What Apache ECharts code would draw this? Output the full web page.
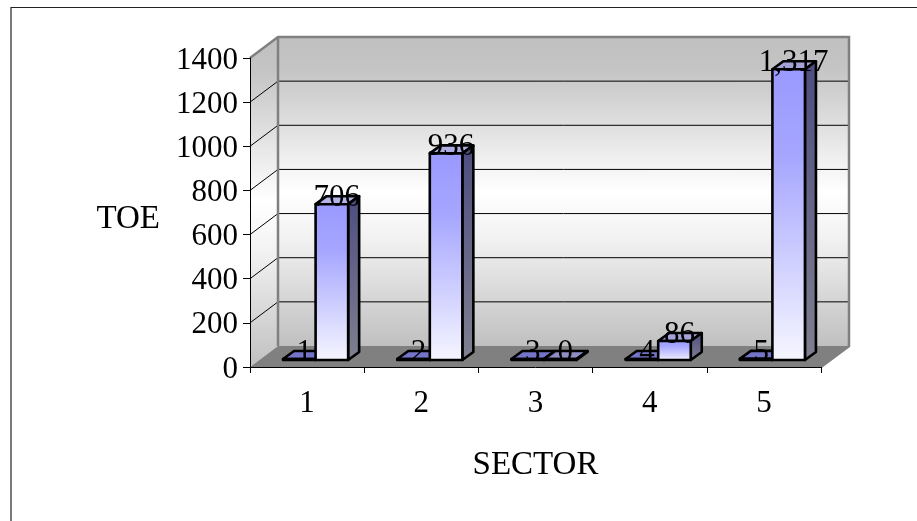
<!DOCTYPE html>
<html><head><meta charset="utf-8">
<style>html,body{margin:0;padding:0;background:#fff}#c{width:917px;height:521px}</style>
<script src="https://cdn.jsdelivr.net/npm/echarts@6/dist/echarts.min.js"></script>
</head><body><div id="c"></div>
<script>
const categories = ['1','2','3','4','5'];
const sectorValues = [1,2,3,4,5];
const toeValues = [706,936,0,86,1317];
const toeLabels = ['706','936','0','86','1,317'];
const yTicks = [0,200,400,600,800,1000,1200,1400];
const FONT = '"Liberation Serif", serif';

const DX = 28, DY = 21;      // wall depth
const BDX = 11, BDY = 8;     // bar depth
const SX = 8.5, SY = 7;      // bar set-back

const wallGrad = {type:'linear',x:0,y:0,x2:0,y2:1,colorStops:[
  {offset:0,color:'#c0c0c0'},{offset:0.1,color:'#c4c4c4'},{offset:0.5,color:'#ffffff'},{offset:0.65,color:'#f2f2f2'},{offset:1,color:'#c0c0c0'}]};
const frontGrad = {type:'linear',x:0,y:0,x2:0,y2:1,colorStops:[
  {offset:0,color:'#9999ff'},{offset:0.3,color:'#a6a6ff'},{offset:1,color:'#f6f6ff'}]};
const sideGrad = {type:'linear',x:0,y:0,x2:0,y2:1,colorStops:[
  {offset:0,color:'#4d4d80'},{offset:1,color:'#808090'}]};

function renderWalls(params, api){
  const c = params.coordSys;
  const L=c.x, R=c.x+c.width, T=c.y, B=c.y+c.height;
  const kids = [];
  kids.push({type:'polygon',shape:{points:[[L+DX,T-DY],[R+DX,T-DY],[R+DX,B-DY],[L+DX,B-DY]]},style:{fill:wallGrad}});
  kids.push({type:'polygon',shape:{points:[[L,T],[L+DX,T-DY],[L+DX,B-DY],[L,B]]},style:{fill:wallGrad}});
  kids.push({type:'polygon',shape:{points:[[L,B],[R,B],[R+DX,B-DY],[L+DX,B-DY]]},style:{fill:'#808080'}});
  yTicks.forEach(v=>{
    if(v===0||v===1400) return;
    const y = api.coord([0,v])[1];
    kids.push({type:'polyline',shape:{points:[[L,y],[L+DX,y-DY],[R+DX,y-DY]]},style:{fill:'none',stroke:'#000',lineWidth:1}});
  });
  kids.push({type:'polyline',shape:{points:[[L,T],[L+DX,T-DY],[R+DX,T-DY],[R+DX,B-DY],[R,B]]},style:{fill:'none',stroke:'#808080',lineWidth:2.5}});
  kids.push({type:'line',shape:{x1:L+DX,y1:T-DY,x2:L+DX,y2:B-DY},style:{stroke:'#808080',lineWidth:2.5}});
  return {type:'group',children:kids};
}

function makeBars(sign, labels){
  return function(params, api){
    const cat = api.value(0), val = api.value(1);
    const band = api.size([1,0])[0];
    const w = band*0.285;
    const p = api.coord([cat,val]), b = api.coord([cat,0]);
    const x0 = p[0]+SX + (sign<0 ? -w : 0), x1 = x0+w;
    const yb = b[1]-SY, yt = Math.min(p[1]-SY, yb-1);
    const st = {stroke:'#000',lineWidth:2.6,lineJoin:'round'};
    const topFill = sign<0 ? '#7474c8' : 'rgba(150,150,225,0.7)';
    return {type:'group',children:[
      {type:'polygon',shape:{points:[[x0,yt],[x1,yt],[x1+BDX,yt-BDY],[x0+BDX,yt-BDY]]},style:Object.assign({fill:topFill},st)},
      {type:'polygon',shape:{points:[[x1,yt],[x1+BDX,yt-BDY],[x1+BDX,yb-BDY],[x1,yb]]},style:Object.assign({fill:sideGrad},st)},
      {type:'polygon',shape:{points:[[x0,yt],[x1,yt],[x1,yb],[x0,yb]]},style:Object.assign({fill:frontGrad},st)},
      {type:'text',z2:50,style:{text:labels[params.dataIndex],x:(x0+x1)/2+5,y:yt+9,textAlign:'center',textVerticalAlign:'bottom',fill:'#000',font:'31px '+FONT}}
    ]};
  };
}

const chart = echarts.init(document.getElementById('c'),null,{renderer:'canvas'});
chart.setOption({
  animation:false,
  backgroundColor:'#fff',
  graphic:[{type:'polyline',silent:true,shape:{points:[[11,521],[11,7.5],[917,7.5]]},style:{fill:'none',stroke:'#222',lineWidth:1.2}}],
  grid:{left:250,top:58,width:571,height:309},
  xAxis:{type:'category',data:categories,z:3,name:'SECTOR',nameLocation:'middle',nameGap:82,
    nameTextStyle:{fontFamily:'Liberation Serif',fontSize:33,color:'#000'},
    axisLine:{show:true,lineStyle:{color:'#000',width:1}},
    axisTick:{show:true,alignWithLabel:false,length:6,lineStyle:{color:'#000'}},
    axisLabel:{fontFamily:'Liberation Serif',fontSize:31,color:'#000',margin:21}},
  yAxis:{type:'value',min:0,max:1400,interval:200,z:3,name:'TOE',nameLocation:'middle',nameGap:90,nameRotate:0,
    nameTextStyle:{fontFamily:'Liberation Serif',fontSize:33,color:'#000',verticalAlign:'top',padding:[-10,0,0,0]},
    axisLine:{show:true,lineStyle:{color:'#000',width:1}},
    axisTick:{show:true,length:7,lineStyle:{color:'#000'}},
    axisLabel:{fontFamily:'Liberation Serif',fontSize:31,color:'#000',margin:12,verticalAlign:'top',padding:[-13,0,0,0],formatter:v=>String(v)},
    splitLine:{show:false}},
  series:[
    {type:'custom',z:1,clip:false,silent:true,coordinateSystem:'cartesian2d',data:[[0,0]],renderItem:renderWalls},
    {type:'custom',z:4,clip:false,silent:true,coordinateSystem:'cartesian2d',encode:{x:0,y:1},
     data:sectorValues.map((v,i)=>[i,v]),renderItem:makeBars(-1,sectorValues.map(String))},
    {type:'custom',z:5,clip:false,silent:true,coordinateSystem:'cartesian2d',encode:{x:0,y:1},
     data:toeValues.map((v,i)=>[i,v]),renderItem:makeBars(1,toeLabels)}
  ]
});
</script></body></html>
